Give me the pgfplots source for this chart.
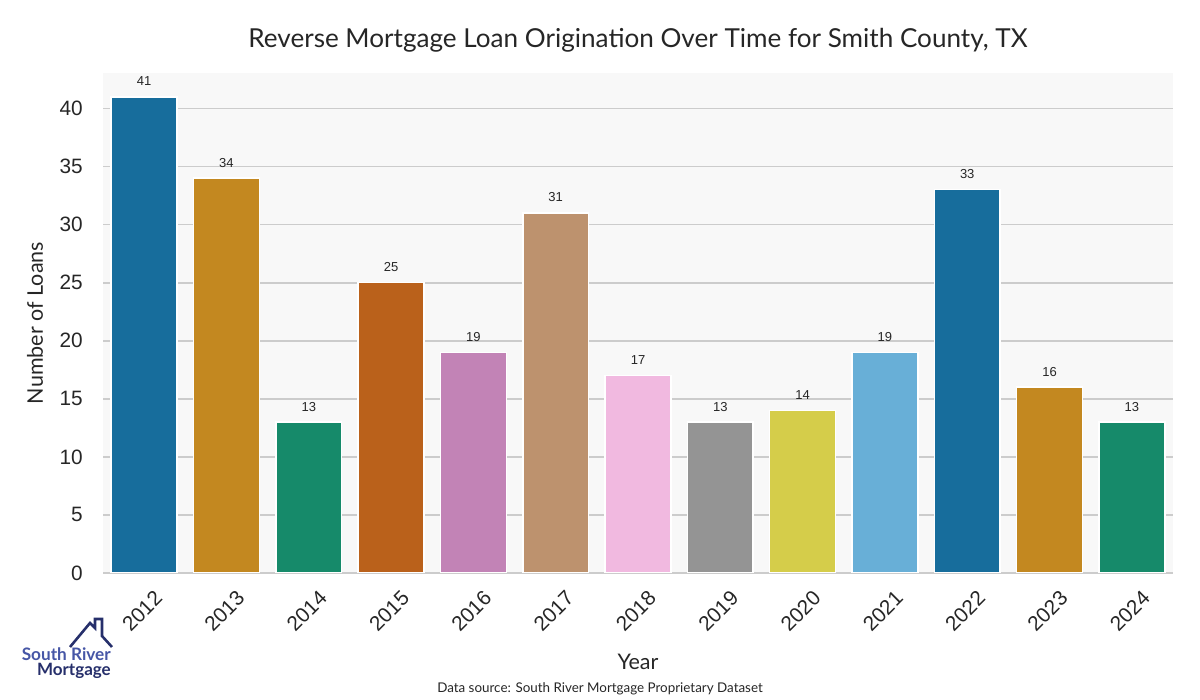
\documentclass[border=0pt]{standalone}
\usepackage{fontspec}
\setmainfont{Liberation Sans}
\newfontfamily\titlefont{Lato}
\usepackage{pgfplots}
\pgfplotsset{compat=1.18}
\definecolor{c0}{HTML}{176D9C}
\definecolor{c1}{HTML}{C38820}
\definecolor{c2}{HTML}{168A6A}
\definecolor{c3}{HTML}{BA611B}
\definecolor{c4}{HTML}{C283B6}
\definecolor{c5}{HTML}{BD926E}
\definecolor{c6}{HTML}{F1B9E0}
\definecolor{c7}{HTML}{949494}
\definecolor{c8}{HTML}{D5CD4A}
\definecolor{c9}{HTML}{68AFD7}
\definecolor{bgc}{HTML}{F8F8F8}
\definecolor{gridc}{HTML}{CCCCCC}
\definecolor{txt}{HTML}{262626}
\definecolor{logoA}{HTML}{4656A6}
\definecolor{logoB}{HTML}{262F6B}
\begin{document}
\begin{tikzpicture}[x=1pt,y=1pt]
\useasboundingbox (0,0) rectangle (1200,700);
\begin{axis}[
  at={(103pt,127pt)}, anchor=south west,
  scale only axis, width=1070pt, height=500pt,
  xmin=-0.5, xmax=12.5, ymin=0, ymax=43.05,
  ybar, bar width=0.8, bar shift=0pt,
  axis background/.style={fill=bgc},
  axis line style={draw=none},
  major tick length=0pt,
  ymajorgrids, grid style={color=gridc, line width=1.8pt},
  xtick={0,...,12},
  xticklabels={2012,2013,2014,2015,2016,2017,2018,2019,2020,2021,2022,2023,2024},
  ytick={0,5,...,40},
  /pgf/number format/assume math mode=true,
  tick label style={font=\fontsize{20.8}{20.8}\selectfont, text=txt},
  xticklabel style={yshift=-38pt, xshift=-2pt, rotate=45, anchor=center},
  yticklabel style={anchor=east, inner sep=0pt, xshift=-20pt},
  nodes near coords,
  every node near coord/.style={font=\fontsize{13}{13}\selectfont, text=txt, anchor=base, yshift=11pt, inner sep=0pt},
  every axis plot/.append style={draw=white, line width=1.5pt},
]
\addplot[fill=c0] coordinates {(0,41)};
\addplot[fill=c1] coordinates {(1,34)};
\addplot[fill=c2] coordinates {(2,13)};
\addplot[fill=c3] coordinates {(3,25)};
\addplot[fill=c4] coordinates {(4,19)};
\addplot[fill=c5] coordinates {(5,31)};
\addplot[fill=c6] coordinates {(6,17)};
\addplot[fill=c7] coordinates {(7,13)};
\addplot[fill=c8] coordinates {(8,14)};
\addplot[fill=c9] coordinates {(9,19)};
\addplot[fill=c0] coordinates {(10,33)};
\addplot[fill=c1] coordinates {(11,16)};
\addplot[fill=c2] coordinates {(12,13)};
\end{axis}
\node[font=\titlefont\fontsize{26.1}{26.1}\selectfont, text=txt] at (638,660) {Reverse Mortgage Loan Origination Over Time for Smith County, TX};
\node[font=\titlefont\fontsize{21.5}{21.5}\selectfont, text=txt] at (638,38) {Year};
\node[font=\titlefont\fontsize{21.5}{21.5}\selectfont, text=txt, rotate=90] at (35,377) {Number of Loans};
\node[font=\titlefont\fontsize{13.4}{13.4}\selectfont, text=txt] at (600,11) {Data source: South River Mortgage Proprietary Dataset};
% logo
\draw[logoB, line width=2.6pt, line join=miter] (70,53) -- (90,77) -- (95,72) -- (95,81) -- (102,81) -- (102,64) -- (112,53);
\node[font=\titlefont\bfseries\fontsize{17.2}{17.2}\selectfont, text=logoA, anchor=base east, inner sep=0pt] at (111,39) {South River};
\node[font=\titlefont\bfseries\fontsize{17}{17}\selectfont, text=logoB, anchor=base east, inner sep=0pt] at (111,24) {Mortgage};
\end{tikzpicture}
\end{document}
